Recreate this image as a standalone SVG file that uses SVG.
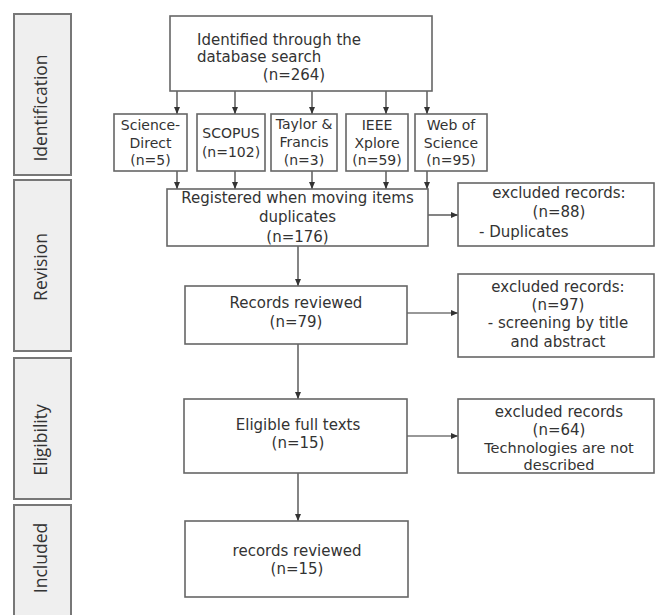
<svg xmlns="http://www.w3.org/2000/svg" width="656" height="615" viewBox="0 0 656 615">
<defs>
<marker id="arr" markerWidth="7" markerHeight="6" refX="7" refY="3" orient="auto" markerUnits="userSpaceOnUse">
<path d="M0,0 L7,3 L0,6 Z" fill="#333"/>
</marker>
<style>
.lab rect{fill:#efefef;stroke:#777;stroke-width:2}
.lab text{font-family:"Open Sans","DejaVu Sans",sans-serif;font-size:17.5px;fill:#333;text-anchor:middle}
.node rect{fill:#fff;stroke:#666;stroke-width:1.6}
.node text{font-family:"DejaVu Sans",sans-serif;font-size:15px;fill:#333;text-anchor:middle}
.src text{font-size:14px}
#connectors line{stroke:#333;stroke-width:1.2;marker-end:url(#arr)}
</style>
</defs>
<rect width="656" height="615" fill="#fff"/>

<g id="lab-identification" class="lab"><rect x="14" y="14" width="57" height="161"/><text transform="translate(47,108) rotate(-90)">Identification</text></g>
<g id="lab-revision" class="lab"><rect x="14" y="180" width="57" height="171"/><text transform="translate(47,267) rotate(-90)">Revision</text></g>
<g id="lab-eligibility" class="lab"><rect x="14" y="358" width="57" height="141"/><text transform="translate(47,440) rotate(-90)">Eligibility</text></g>
<g id="lab-included" class="lab"><rect x="14" y="505" width="57" height="120"/><text transform="translate(47,558) rotate(-90)">Included</text></g>

<g id="connectors">
<line x1="177" y1="91" x2="177" y2="114"/>
<line x1="235" y1="91" x2="235" y2="114"/>
<line x1="312" y1="91" x2="312" y2="114"/>
<line x1="386" y1="91" x2="386" y2="114"/>
<line x1="427" y1="91" x2="427" y2="114"/>
<line x1="177" y1="171" x2="177" y2="189"/>
<line x1="235" y1="171" x2="235" y2="189"/>
<line x1="312" y1="171" x2="312" y2="189"/>
<line x1="386" y1="171" x2="386" y2="189"/>
<line x1="427" y1="171" x2="427" y2="189"/>
<line x1="428" y1="215" x2="458" y2="215"/>
<line x1="298" y1="246" x2="298" y2="286"/>
<line x1="407" y1="313" x2="458" y2="313"/>
<line x1="298" y1="344" x2="298" y2="399"/>
<line x1="407" y1="436" x2="458" y2="436"/>
<line x1="298" y1="473" x2="298" y2="521"/>
</g>

<g id="n-search" class="node"><rect x="170" y="16" width="262" height="75"/>
<text x="197" y="45" style="text-anchor:start">Identified through the</text>
<text x="197" y="62" style="text-anchor:start">database search</text>
<text x="294" y="80">(n=264)</text></g>

<g id="n-sciencedirect" class="node src"><rect x="114" y="114" width="73" height="57"/>
<text x="150.5" y="130">Science-</text><text x="150.5" y="148">Direct</text><text x="150.5" y="165">(n=5)</text></g>
<g id="n-scopus" class="node src"><rect x="197" y="114" width="68" height="57"/>
<text x="231" y="138">SCOPUS</text><text x="231" y="157">(n=102)</text></g>
<g id="n-taylor" class="node src"><rect x="271" y="114" width="66" height="57"/>
<text x="304" y="129">Taylor &amp;</text><text x="304" y="147">Francis</text><text x="304" y="165">(n=3)</text></g>
<g id="n-ieee" class="node src"><rect x="346" y="114" width="62" height="57"/>
<text x="377" y="130">IEEE</text><text x="377" y="148">Xplore</text><text x="377" y="165">(n=59)</text></g>
<g id="n-wos" class="node src"><rect x="415" y="114" width="72" height="57"/>
<text x="451" y="130">Web of</text><text x="451" y="148">Science</text><text x="451" y="165">(n=95)</text></g>

<g id="n-registered" class="node"><rect x="167" y="189" width="261" height="57"/>
<text x="297.5" y="203">Registered when moving items</text><text x="297.5" y="222">duplicates</text><text x="297.5" y="242">(n=176)</text></g>
<g id="n-excl1" class="node"><rect x="458" y="183" width="196" height="63"/>
<text x="559" y="198">excluded records:</text><text x="559" y="217">(n=88)</text>
<text x="479" y="237" style="text-anchor:start">- Duplicates</text></g>

<g id="n-reviewed" class="node"><rect x="185" y="286" width="222" height="58"/>
<text x="296" y="308">Records reviewed</text><text x="296" y="327">(n=79)</text></g>
<g id="n-excl2" class="node"><rect x="458" y="274" width="196" height="83"/>
<text x="558" y="292">excluded records:</text><text x="558" y="310">(n=97)</text>
<text x="558" y="328">- screening by title</text><text x="558" y="347">and abstract</text></g>

<g id="n-eligible" class="node"><rect x="184" y="399" width="223" height="74"/>
<text x="298" y="430">Eligible full texts</text><text x="298" y="448">(n=15)</text></g>
<g id="n-excl3" class="node"><rect x="458" y="399" width="196" height="74"/>
<text x="559" y="417">excluded records</text><text x="559" y="435">(n=64)</text>
<text x="559" y="453" style="font-size:14.5px">Technologies are not</text><text x="559" y="470" style="font-size:14.5px">described</text></g>

<g id="n-included" class="node"><rect x="185" y="521" width="223" height="76"/>
<text x="297" y="556">records reviewed</text><text x="297" y="574">(n=15)</text></g>
</svg>
